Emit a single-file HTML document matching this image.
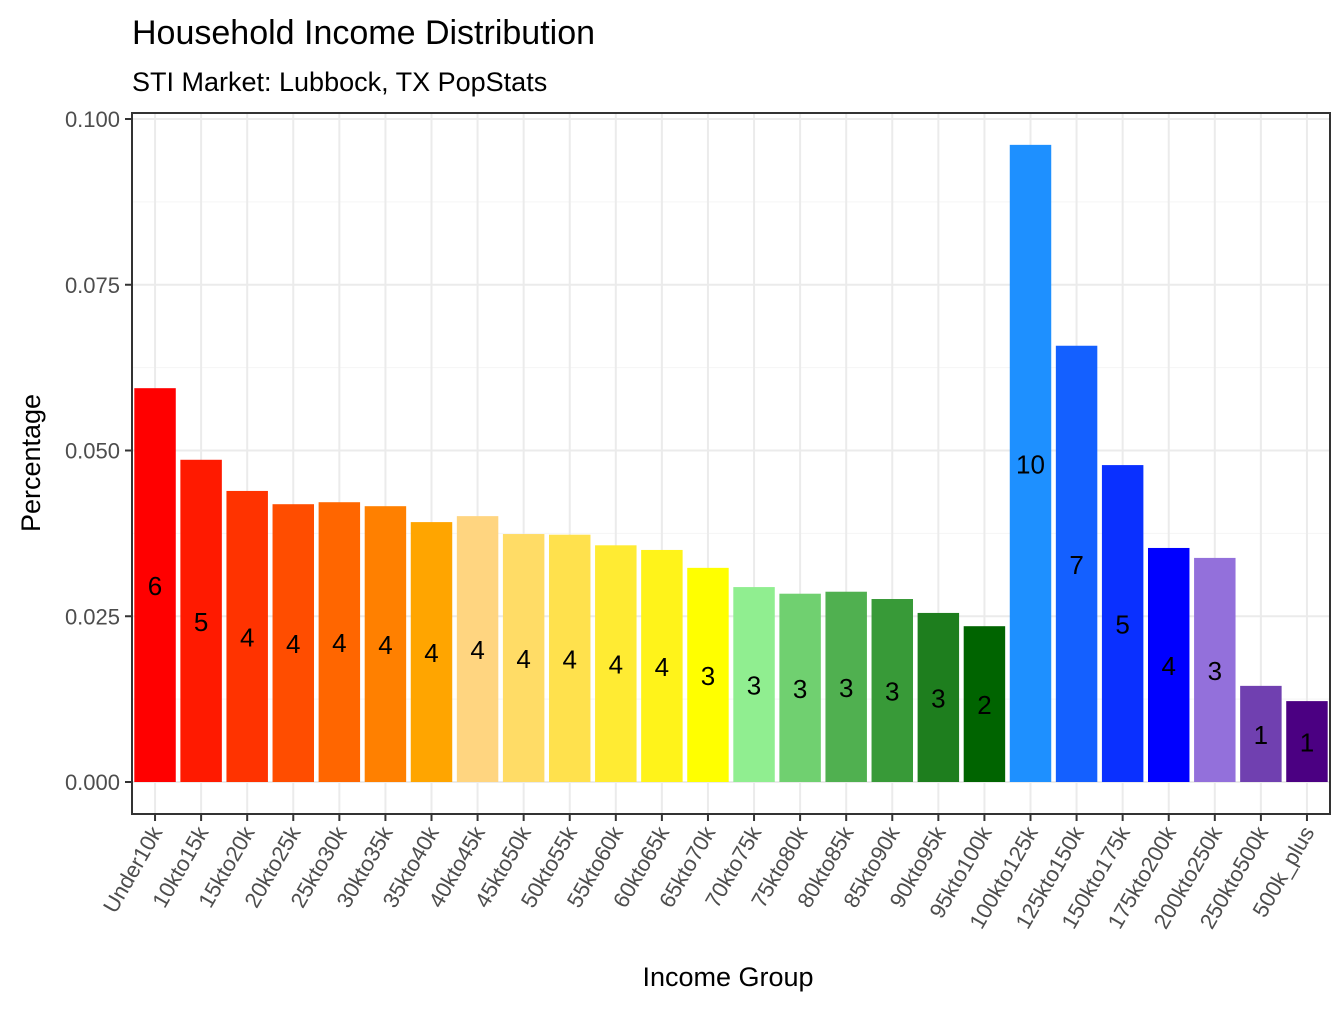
<!DOCTYPE html>
<html><head><meta charset="utf-8"><style>
body{margin:0;background:#fff;font-family:"Liberation Sans",Arial,sans-serif;}
svg text{font-family:"Liberation Sans",Arial,sans-serif;}
</style></head><body>
<svg id="chart" width="1344" height="1008" viewBox="0 0 1344 1008">
<text x="132" y="44" font-size="34" fill="#000">Household Income Distribution</text>
<text x="132" y="91" font-size="27" fill="#000">STI Market: Lubbock, TX PopStats</text>
<text x="975" y="0" font-size="27" transform="translate(40,463) rotate(-90)" text-anchor="middle"><tspan x="0" y="0">Percentage</tspan></text>
<text x="728" y="986" font-size="27" text-anchor="middle">Income Group</text>
<g id="grid"></g><g id="bars"></g><g id="labels"></g><g id="axes"></g>
</svg>
<script>
const categories=["Under10k","10kto15k","15kto20k","20kto25k","25kto30k","30kto35k","35kto40k","40kto45k","45kto50k","50kto55k","55kto60k","60kto65k","65kto70k","70kto75k","75kto80k","80kto85k","85kto90k","90kto95k","95kto100k","100kto125k","125kto150k","150kto175k","175kto200k","200kto250k","250kto500k","500k_plus"];
const values=[0.0594,0.0486,0.0439,0.0419,0.0422,0.0416,0.0392,0.0401,0.0374,0.0373,0.0357,0.0350,0.0323,0.0294,0.0284,0.0287,0.0276,0.0255,0.0235,0.0961,0.0658,0.0478,0.0353,0.0338,0.0145,0.0122];
const colors=["#FF0000","#FF1A00","#FF3300","#FF4D00","#FF6600","#FF8000","#FFA500","#FFD580","#FFDC66","#FFE14D","#FFEB33","#FFF31A","#FFFF00","#90EE90","#70D070","#50B050","#389A38","#1E7E1E","#006400","#1E90FF","#1460FF","#0A30FF","#0000FF","#9370DB","#7040B0","#4B0082"];
const yTicks=[0,0.025,0.05,0.075,0.1];
const yTickLabels=["0.000","0.025","0.050","0.075","0.100"];
const NS="http://www.w3.org/2000/svg";
const L=132,R=1330,T=113,B=814;
const y=v=>782-v*6630;
const step=(R-L)/categories.length;
const x=i=>L+step*(i+0.5);
const bw=step*0.9;
function mk(tag,attrs,parent){const e=document.createElementNS(NS,tag);for(const k in attrs)e.setAttribute(k,attrs[k]);document.getElementById(parent).appendChild(e);return e;}
mk('rect',{x:L,y:T,width:R-L,height:B-T,fill:'#fff'},'grid');
for(let i=0;i<yTicks.length-1;i++){const m=(yTicks[i]+yTicks[i+1])/2;
const g=mk('line',{x1:L,x2:R,y1:y(m),y2:y(m),stroke:'#F5F5F5','stroke-width':1},'grid');

}
yTicks.forEach((t,i)=>{
const g=mk('line',{x1:L,x2:R,y1:y(t),y2:y(t),stroke:'#EBEBEB','stroke-width':2},'grid');


const tk=mk('line',{x1:L-7,x2:L,y1:y(t),y2:y(t),stroke:'#333','stroke-width':2},'axes');


const tx=mk('text',{x:L-12,y:y(t)+8,'font-size':22,'text-anchor':'end',fill:'#4D4D4D'},'axes');
tx.textContent=yTickLabels[i];

});
categories.forEach((c,i)=>{
const g=mk('line',{x1:x(i),x2:x(i),y1:T,y2:B,stroke:'#EBEBEB','stroke-width':2},'grid');


const r=mk('rect',{x:x(i)-bw/2,y:y(values[i]),width:bw,height:782-y(values[i]),fill:colors[i]},'bars');


const lb=mk('text',{x:x(i),y:(y(values[i])+782)/2+10,'font-size':26,'text-anchor':'middle',fill:'#000'},'labels');
lb.textContent=Math.round(values[i]*100);


const tk=mk('line',{x1:x(i),x2:x(i),y1:B,y2:B+7,stroke:'#333','stroke-width':2},'axes');


const tx=mk('text',{x:0,y:0,'font-size':22,'text-anchor':'end',fill:'#4D4D4D',transform:`translate(${x(i)+8},${B+18}) rotate(-60)`},'axes');
tx.textContent=c;

});
const bd=mk('rect',{x:L,y:T,width:R-L,height:B-T,fill:'none',stroke:'#333','stroke-width':2},'axes');


</script>
</body></html>
